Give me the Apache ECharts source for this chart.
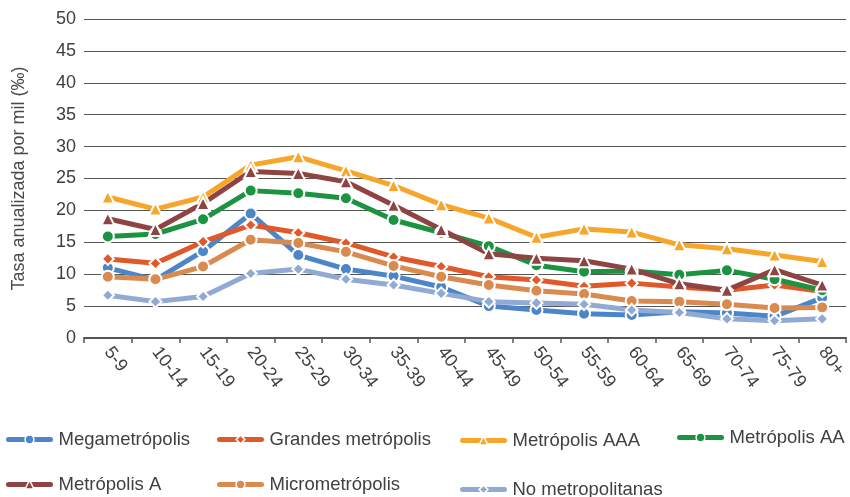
<!DOCTYPE html>
<html><head><meta charset="utf-8">
<script src="https://cdn.jsdelivr.net/npm/echarts@6/dist/echarts.min.js"></script>
<style>html,body{margin:0;padding:0;background:#fff}#c{width:850px;height:497px}</style>
</head><body><div id="c"></div>
<script>
const categories = ['5-9','10-14','15-19','20-24','25-29','30-34','35-39','40-44','45-49','50-54','55-59','60-64','65-69','70-74','75-79','80+'];
const megametropolis = [11.0, 9.1, 13.6, 19.5, 13.0, 10.8, 9.7, 8.0, 5.0, 4.4, 3.8, 3.6, 4.1, 3.9, 3.4, 6.3];
const grandesMetropolis = [12.4, 11.7, 15.1, 17.7, 16.5, 14.9, 12.7, 11.2, 9.6, 9.1, 8.1, 8.6, 8.0, 7.5, 8.3, 7.3];
const metropolisAAA = [22.1, 20.2, 22.1, 27.1, 28.4, 26.2, 23.9, 20.9, 18.8, 15.8, 17.1, 16.6, 14.6, 14.0, 13.0, 12.0];
const metropolisAA = [15.9, 16.3, 18.6, 23.1, 22.7, 21.9, 18.5, 16.5, 14.4, 11.4, 10.4, 10.5, 9.9, 10.6, 9.2, 7.5];
const metropolisA = [18.7, 17.0, 21.1, 26.1, 25.8, 24.5, 20.8, 17.0, 13.2, 12.5, 12.1, 10.8, 8.5, 7.5, 10.7, 8.3];
const micrometropolis = [9.6, 9.2, 11.2, 15.4, 14.9, 13.5, 11.3, 9.6, 8.3, 7.4, 6.9, 5.8, 5.7, 5.3, 4.7, 4.8];
const noMetropolitanas = [6.7, 5.7, 6.5, 10.1, 10.8, 9.2, 8.3, 7.0, 5.7, 5.5, 5.3, 4.4, 4.0, 3.0, 2.7, 3.0];
const yTicks = [0,5,10,15,20,25,30,35,40,45,50];

const defs = [
  {name:'Megametrópolis', data:megametropolis, color:'#4D86C8', symbol:'circle', size:12},
  {name:'Grandes metrópolis', data:grandesMetropolis, color:'#E0592B', symbol:'diamond', size:12},
  {name:'Metrópolis AAA', data:metropolisAAA, color:'#F6A62B', symbol:'triangle', size:13},
  {name:'Metrópolis AA', data:metropolisAA, color:'#1B9340', symbol:'circle', size:12},
  {name:'Metrópolis A', data:metropolisA, color:'#8F4444', symbol:'triangle', size:13},
  {name:'Micrometrópolis', data:micrometropolis, color:'#D98B4F', symbol:'circle', size:12},
  {name:'No metropolitanas', data:noMetropolitanas, color:'#91AAD4', symbol:'diamond', size:12}
];
const legendPos = [[6,438],[217,438],[460,439],[677,436],[6,483],[217,483],[460,488]];
const font = 'Liberation Sans, Arial, sans-serif';
const chart = echarts.init(document.getElementById('c'), null, {renderer:'canvas'});
chart.setOption({
  animation:false,
  backgroundColor:'#fff',
  grid:{left:84,right:4,top:19,bottom:159},
  xAxis:{type:'category', data:categories, boundaryGap:true,
    axisLine:{lineStyle:{color:'#555',width:2}},
    axisTick:{show:true,alignWithLabel:false,length:5,lineStyle:{color:'#555',width:1.5}},
    axisLabel:{rotate:-53,color:'#404040',fontSize:18,fontFamily:font,margin:11,interval:0}},
  yAxis:{type:'value', min:0, max:50, interval:5,
    name:'Tasa anualizada por mil (‰)', nameLocation:'middle', nameGap:56, nameRotate:90,
    nameTextStyle:{fontSize:18,color:'#4a4a4a',fontFamily:font},
    axisLine:{show:false}, axisTick:{show:false},
    axisLabel:{color:'#404040',fontSize:18,fontFamily:font,margin:8},
    splitLine:{lineStyle:{color:'#555',width:1}}},
  legend: defs.map((d,i)=>({data:[d.name], left:legendPos[i][0], top:legendPos[i][1]-8,
    itemWidth:42, itemHeight:11, itemGap:0, padding:0,
    lineStyle:{width:5, cap:'round'},
    itemStyle:{borderColor:'#fff', borderWidth:1.5},
    textStyle:{fontSize:18.5,color:'#404040',fontFamily:font,padding:[0,0,0,3]}})),
  series: defs.map(d=>({type:'line', name:d.name, data:d.data, symbol:d.symbol, symbolSize:d.size,
    lineStyle:{width:5,color:d.color}, itemStyle:{color:d.color,borderColor:'#fff',borderWidth:2},
    z:2}))
});
</script></body></html>
